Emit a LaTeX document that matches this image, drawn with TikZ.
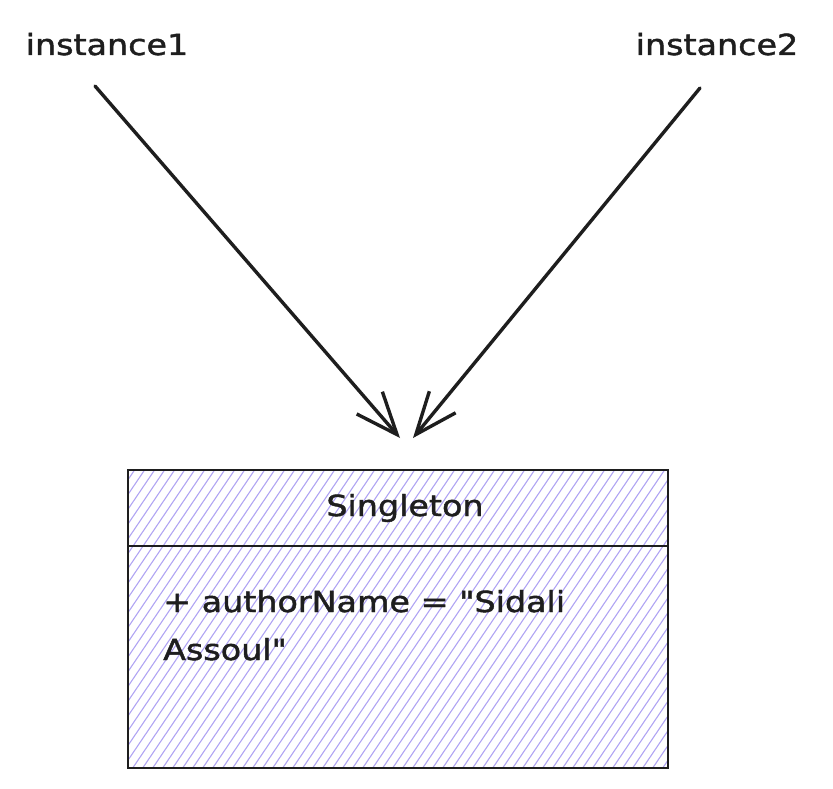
\documentclass[tikz,border=0pt]{standalone}
\usepackage{fontspec}
\usetikzlibrary{arrows.meta}
\newfontfamily\handfont[FakeStretch=1.15,FakeBold=1.5]{DejaVu Sans}
\definecolor{ink}{HTML}{1E1E1E}
\definecolor{hatchc}{HTML}{B0A4F3}
\tikzset{
  lbl/.style={font=\handfont\fontsize{29}{34}\selectfont, text=ink, inner sep=0pt, anchor=base},
  conn/.style={draw=ink, line width=3.4pt, line cap=round, line join=round,
    -{Straight Barb[length=42pt,width=34pt,line width=3.4pt]}},
  hatchline/.style={draw=hatchc, line width=1.1pt},
  boxline/.style={draw=ink, line width=2pt}
}
\begin{document}
\begin{tikzpicture}[x=1pt,y=-1pt]
\useasboundingbox (0,0) rectangle (833,789);
% labels
\node[lbl] (i1) at (107,55) {instance1};
\node[lbl] (i2) at (717,55) {instance2};
% class box
\coordinate (bTL) at (128,470);
\coordinate (bBR) at (668,768);
\begin{scope}
  \clip (bTL) rectangle (bBR);
  \foreach \i in {-110,-100,...,680} {
    \draw[hatchline] (\i,772) -- ++(210,-310);
  }
\end{scope}
\node[boxline, draw, minimum width=540pt, minimum height=298pt, inner sep=0pt] (cls) at (398,619) {};
\draw[boxline] (cls.west |- 0,546) -- (cls.east |- 0,546);
\node[lbl] (title) at (405,516) {Singleton};
\node[lbl, anchor=base west] (attr1) at (163,612) {+ authorName = "Sidali};
\node[lbl, anchor=base west] (attr2) at (163,660) {Assoul"};
% connectors
\coordinate (s1) at (95,86);
\coordinate (e1) at (400,438);
\coordinate (s2) at (700,88);
\coordinate (e2) at (413,438);
\draw[conn] (s1) -- (e1);
\draw[conn] (s2) -- (e2);
\end{tikzpicture}
\end{document}
